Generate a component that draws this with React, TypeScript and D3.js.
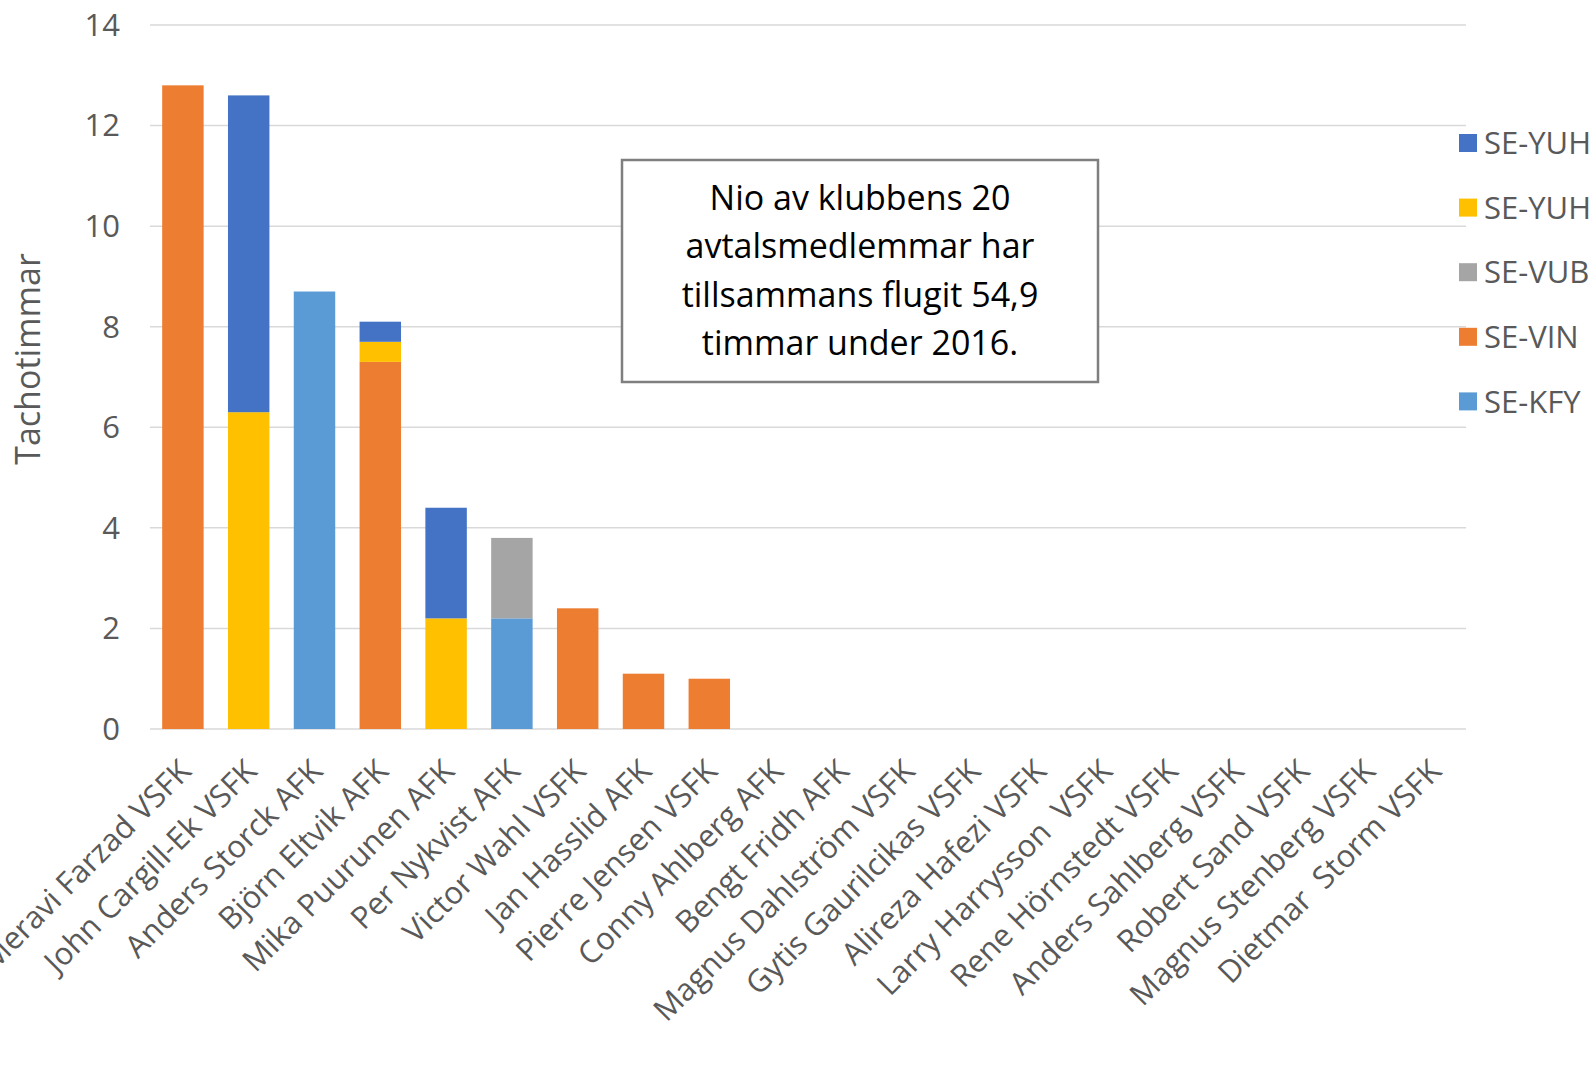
import React, { useEffect, useRef } from "react";
import * as d3 from "d3";

const members = [
  "Reza Meravi Farzad VSFK",
  "John Cargill-Ek VSFK",
  "Anders Storck AFK",
  "Björn Eltvik AFK",
  "Mika Puurunen AFK",
  "Per Nykvist AFK",
  "Victor Wahl VSFK",
  "Jan Hasslid AFK",
  "Pierre Jensen VSFK",
  "Conny Ahlberg AFK",
  "Bengt Fridh AFK",
  "Magnus Dahlström VSFK",
  "Gytis Gaurilcikas VSFK",
  "Alireza Hafezi VSFK",
  "Larry Harrysson  VSFK",
  "Rene Hörnstedt VSFK",
  "Anders Sahlberg VSFK",
  "Robert Sand VSFK",
  "Magnus Stenberg VSFK",
  "Dietmar  Storm VSFK",
];

// series in stacking order (bottom first)
const kfy = [0, 0, 8.7, 0, 0, 2.2, 0, 0, 0, 0, 0, 0, 0, 0, 0, 0, 0, 0, 0, 0];
const vin = [12.8, 0, 0, 7.3, 0, 0, 2.4, 1.1, 1.0, 0, 0, 0, 0, 0, 0, 0, 0, 0, 0, 0];
const vub = [0, 0, 0, 0, 0, 1.6, 0, 0, 0, 0, 0, 0, 0, 0, 0, 0, 0, 0, 0, 0];
const yuhYellow = [0, 6.3, 0, 0.4, 2.2, 0, 0, 0, 0, 0, 0, 0, 0, 0, 0, 0, 0, 0, 0, 0];
const yuhBlue = [0, 6.3, 0, 0.4, 2.2, 0, 0, 0, 0, 0, 0, 0, 0, 0, 0, 0, 0, 0, 0, 0];

const seriesKeys = ["kfy", "vin", "vub", "yuhYellow", "yuhBlue"];
const seriesNames = ["SE-KFY", "SE-VIN", "SE-VUB", "SE-YUH", "SE-YUH"];
const seriesColors = ["#5B9BD5", "#ED7D31", "#A5A5A5", "#FFC000", "#4472C4"];
const yTicks = [0, 2, 4, 6, 8, 10, 12, 14];

const noteLines = [
  "Nio av klubbens 20",
  "avtalsmedlemmar har",
  "tillsammans flugit 54,9",
  "timmar under 2016.",
];

const FONT = "'Open Sans', sans-serif";

export default function App() {
  const svgRef = useRef<SVGSVGElement>(null);

  useEffect(() => {
    document.body.style.margin = "0";
    if (!svgRef.current) return;
    const svg = d3.select(svgRef.current);
    svg.selectAll("*").remove();

    const width = 1595;
    const height = 1068;
    const margin = { top: 25, right: 129, bottom: 339, left: 150 };
    const innerW = width - margin.left - margin.right;
    const innerH = height - margin.top - margin.bottom;

    const rows = members.map((name, i) => ({
      name,
      kfy: kfy[i],
      vin: vin[i],
      vub: vub[i],
      yuhYellow: yuhYellow[i],
      yuhBlue: yuhBlue[i],
    }));

    const x = d3.scaleBand().domain(members).range([0, innerW]).paddingInner(0.37).paddingOuter(0.185);
    const y = d3.scaleLinear().domain([0, 14]).range([innerH, 0]);

    const g = svg.append("g").attr("transform", `translate(${margin.left},${margin.top})`);

    // gridlines
    g.append("g")
      .selectAll("line")
      .data(yTicks)
      .join("line")
      .attr("x1", 0)
      .attr("x2", innerW)
      .attr("y1", (d) => y(d))
      .attr("y2", (d) => y(d))
      .attr("stroke", "#D9D9D9")
      .attr("stroke-width", 1.5);

    // y tick labels
    g.append("g")
      .selectAll("text")
      .data(yTicks)
      .join("text")
      .attr("x", -30)
      .attr("y", (d) => y(d))
      .attr("dy", "0.35em")
      .attr("text-anchor", "end")
      .attr("font-family", FONT)
      .attr("font-size", 31)
      .attr("fill", "#595959")
      .text((d) => d);

    // y axis title
    svg
      .append("text")
      .attr("transform", `translate(40,359) rotate(-90)`)
      .attr("text-anchor", "middle")
      .attr("font-family", FONT)
      .attr("font-size", 34)
      .attr("fill", "#595959")
      .text("Tachotimmar");

    // stacked bars
    const stack = d3.stack<any>().keys(seriesKeys);
    const layers = stack(rows);
    g.append("g")
      .selectAll("g")
      .data(layers)
      .join("g")
      .attr("fill", (_, i) => seriesColors[i])
      .selectAll("rect")
      .data((d) => d.filter((p) => p[1] - p[0] > 0))
      .join("rect")
      .attr("x", (d) => x(d.data.name)!)
      .attr("y", (d) => y(d[1]))
      .attr("width", x.bandwidth())
      .attr("height", (d) => y(d[0]) - y(d[1]));

    // x labels
    g.append("g")
      .selectAll("text")
      .data(members)
      .join("text")
      .attr(
        "transform",
        (d) => `translate(${x(d)! + x.bandwidth() / 2 + 10},${innerH + 44}) rotate(-45)`
      )
      .attr("text-anchor", "end")
      .attr("font-family", FONT)
      .attr("font-size", 31)
      .attr("fill", "#595959")
      .attr("xml:space", "preserve")
      .style("white-space", "pre")
      .text((d) => d);

    // legend (reverse order, as in the source)
    const legendItems = seriesNames.map((n, i) => ({ n, c: seriesColors[i] })).reverse();
    const lg = svg.append("g").attr("transform", "translate(1459,143)");
    const item = lg
      .selectAll("g")
      .data(legendItems)
      .join("g")
      .attr("transform", (_, i) => `translate(0,${i * 64.6})`);
    item.append("rect").attr("x", 0).attr("y", -9).attr("width", 18).attr("height", 18).attr("fill", (d) => d.c);
    item
      .append("text")
      .attr("x", 25)
      .attr("dy", "0.36em")
      .attr("font-family", FONT)
      .attr("font-size", 31)
      .attr("fill", "#595959")
      .text((d) => d.n);

    // annotation box
    const box = svg.append("g");
    box
      .append("rect")
      .attr("x", 622)
      .attr("y", 160)
      .attr("width", 476)
      .attr("height", 222)
      .attr("fill", "#fff")
      .attr("stroke", "#7F7F7F")
      .attr("stroke-width", 2.5);
    box
      .selectAll("text")
      .data(noteLines)
      .join("text")
      .attr("x", 860)
      .attr("y", (_, i) => 198 + i * 48.3)
      .attr("dy", "0.35em")
      .attr("text-anchor", "middle")
      .attr("font-family", FONT)
      .attr("font-size", 34)
      .attr("fill", "#000")
      .text((d) => d);
  }, []);

  return <svg ref={svgRef} width={1595} height={1068} style={{ display: "block" }} />;
}
